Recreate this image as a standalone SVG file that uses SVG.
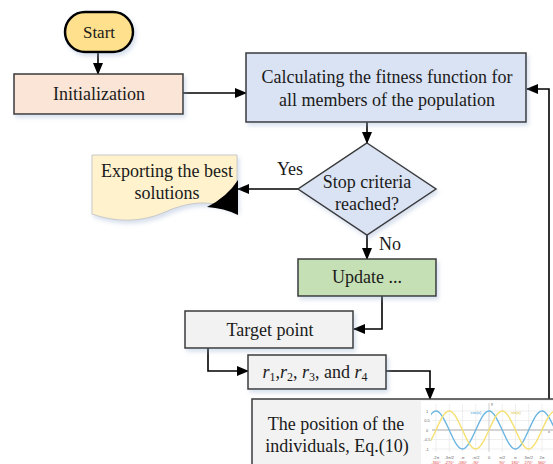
<svg xmlns="http://www.w3.org/2000/svg" width="553" height="464" viewBox="0 0 553 464">
<style>
.t{font-family:"Liberation Serif","Times New Roman",serif;font-size:18px;fill:#1a1a1a;text-anchor:middle}
.box{stroke:#3a3a3a;stroke-width:1.5}
.c{fill:none;stroke:#000;stroke-width:1.6}
.s{font-family:"Liberation Sans",Arial,sans-serif;font-size:4px;fill:#666;text-anchor:middle}
.r{font-family:"Liberation Sans",Arial,sans-serif;font-size:4px;fill:#e04040;text-anchor:middle}
</style>
<defs>
<marker id="ah" markerUnits="userSpaceOnUse" markerWidth="12" markerHeight="12" viewBox="0 0 12 12" refX="11" refY="6" orient="auto">
<path d="M0,1 L12,6 L0,11 Z" fill="#000"/>
</marker>
<filter id="sh" x="-10%" y="-10%" width="130%" height="140%">
<feDropShadow dx="2" dy="3" stdDeviation="2" flood-color="#8fa5cc" flood-opacity="0.35"/>
</filter>
<clipPath id="cp"><rect x="431" y="401" width="122" height="63"/></clipPath>
</defs>

<g id="connectors">
<line class="c" x1="98" y1="52" x2="98" y2="74" marker-end="url(#ah)"/>
<line class="c" x1="183" y1="93" x2="246" y2="93" marker-end="url(#ah)"/>
<line class="c" x1="367" y1="122" x2="367" y2="143" marker-end="url(#ah)"/>
<line class="c" x1="298" y1="189" x2="238" y2="189" marker-end="url(#ah)"/>
<line class="c" x1="367" y1="235" x2="367" y2="259" marker-end="url(#ah)"/>
<polyline class="c" points="382,296 382,329 354,329" marker-end="url(#ah)"/>
<polyline class="c" points="208,348 208,371 248,371" marker-end="url(#ah)"/>
<polyline class="c" points="386,371 430,371 430,399" marker-end="url(#ah)"/>
<polyline class="c" points="549,399 549,89 527,89" marker-end="url(#ah)"/>
<text class="t" x="290" y="175">Yes</text>
<text class="t" x="379" y="250" style="text-anchor:start">No</text>
</g>

<g id="start">
<rect x="65" y="12" width="68" height="40" rx="20" ry="20" fill="#FFE08C" stroke="#000" stroke-width="2.5" filter="url(#sh)"/>
<text class="t" x="99" y="38" style="font-size:17px">Start</text>
</g>

<g id="initialization">
<rect class="box" x="14" y="74" width="169" height="40" fill="#FBE5D6" filter="url(#sh)"/>
<text class="t" x="99" y="100">Initialization</text>
</g>

<g id="fitness">
<rect class="box" x="246" y="53" width="280" height="69" fill="#DAE3F3" filter="url(#sh)"/>
<text class="t" x="387" y="83">Calculating the fitness function for</text>
<text class="t" x="387" y="106">all members of the population</text>
</g>

<g id="decision">
<polygon class="box" points="367,143 436,189 367,235 298,189" fill="#DAE3F3" filter="url(#sh)"/>
<text class="t" x="367" y="188">Stop criteria</text>
<text class="t" x="367" y="210">reached?</text>
</g>

<g id="export">
<path d="M92,155 H237 V212 C215,200 192,200 165,212 C140,223 115,222 92,214 Z" fill="#FFF2CC" stroke="#c8c8c8" stroke-width="1" filter="url(#sh)"/>
<path d="M238,180 Q227,197 207,207 Q224,208 238,215 Z" fill="#000"/>
<text class="t" x="167" y="177">Exporting the best</text>
<text class="t" x="167" y="199">solutions</text>
</g>

<g id="update">
<rect class="box" x="298" y="259" width="138" height="37" fill="#C5E0B4" filter="url(#sh)"/>
<text class="t" x="367" y="283">Update ...</text>
</g>

<g id="target">
<rect class="box" x="185" y="311" width="168" height="37" fill="#F2F2F2" filter="url(#sh)"/>
<text class="t" x="270" y="336">Target point</text>
</g>

<g id="rparams">
<rect class="box" x="248" y="355" width="138" height="34" fill="#F2F2F2" filter="url(#sh)"/>
<text class="t" x="315" y="378"><tspan font-style="italic">r</tspan><tspan font-size="12" dy="3">1</tspan><tspan dy="-3">,</tspan><tspan font-style="italic">r</tspan><tspan font-size="12" dy="3">2</tspan><tspan dy="-3">, </tspan><tspan font-style="italic">r</tspan><tspan font-size="12" dy="3">3</tspan><tspan dy="-3">, and </tspan><tspan font-style="italic">r</tspan><tspan font-size="12" dy="3">4</tspan></text>
</g>

<g id="position">
<rect class="box" x="252" y="399" width="310" height="80" fill="#F2F2F2" filter="url(#sh)"/>
<text class="t" x="336" y="430">The position of the</text>
<text class="t" x="337" y="452">individuals, Eq.(10)</text>
<rect x="421" y="401" width="132" height="63" fill="#fff"/>
<g stroke="#e4e4e4" stroke-width="0.6">
<line x1="436" y1="404" x2="436" y2="452"/><line x1="449.25" y1="404" x2="449.25" y2="452"/>
<line x1="462.5" y1="404" x2="462.5" y2="452"/><line x1="475.75" y1="404" x2="475.75" y2="452"/>
<line x1="502.25" y1="404" x2="502.25" y2="452"/><line x1="515.5" y1="404" x2="515.5" y2="452"/>
<line x1="528.75" y1="404" x2="528.75" y2="452"/><line x1="542" y1="404" x2="542" y2="452"/>
<line x1="432" y1="411" x2="553" y2="411"/><line x1="432" y1="420.5" x2="553" y2="420.5"/>
<line x1="432" y1="439.5" x2="553" y2="439.5"/><line x1="432" y1="449" x2="553" y2="449"/>
</g>
<line x1="489" y1="403" x2="489" y2="452" stroke="#bbb" stroke-width="0.7"/>
<line x1="432" y1="430" x2="553" y2="430" stroke="#aaa" stroke-width="1.2"/>
<g clip-path="url(#cp)" fill="none" stroke-width="1.4">
<path stroke="#6CB6E2" d="M422.75,430 c4.32,-9.73 8.455,-19 13.25,-19 c4.795,0 8.93,9.73 13.25,19 c4.32,9.73 8.455,19 13.25,19 c4.795,0 8.93,-9.73 13.25,-19 c4.32,-9.73 8.455,-19 13.25,-19 c4.795,0 8.93,9.73 13.25,19 c4.32,9.73 8.455,19 13.25,19 c4.795,0 8.93,-9.73 13.25,-19 c4.32,-9.73 8.455,-19 13.25,-19 c4.795,0 8.93,9.73 13.25,19"/>
<path stroke="#F5E070" d="M422.75,449 c4.795,0 8.93,-9.73 13.25,-19 c4.32,-9.73 8.455,-19 13.25,-19 c4.795,0 8.93,9.73 13.25,19 c4.32,9.73 8.455,19 13.25,19 c4.795,0 8.93,-9.73 13.25,-19 c4.32,-9.73 8.455,-19 13.25,-19 c4.795,0 8.93,9.73 13.25,19 c4.32,9.73 8.455,19 13.25,19 c4.795,0 8.93,-9.73 13.25,-19 c4.32,-9.73 8.455,-19 13.25,-19"/>
</g>
<text class="s" x="427" y="412.5">1</text>
<text class="s" x="427" y="422">0.5</text>
<text class="s" x="427" y="431.5">0</text>
<text class="s" x="427" y="441">-0.5</text>
<text class="s" x="427" y="450.5">-1</text>
<text class="s" x="492" y="405">y</text>
<text class="s" x="549" y="433">x</text>
<text class="s" x="476" y="414" style="fill:#3a9ad9">cos(x)</text>
<text class="s" x="516" y="414" style="fill:#d9c020">sin(x)</text>
<text class="s" x="436" y="458.5">-2π</text>
<text class="s" x="449.25" y="458.5">-3π/2</text>
<text class="s" x="462.5" y="458.5">-π</text>
<text class="s" x="475.75" y="458.5">-π/2</text>
<text class="s" x="489" y="458.5">0</text>
<text class="s" x="502.25" y="458.5">π/2</text>
<text class="s" x="515.5" y="458.5">π</text>
<text class="s" x="528.75" y="458.5">3π/2</text>
<text class="s" x="542" y="458.5">2π</text>
<text class="r" x="436" y="463.5">-360°</text>
<text class="r" x="449.25" y="463.5">-270°</text>
<text class="r" x="462.5" y="463.5">-180°</text>
<text class="r" x="475.75" y="463.5">-90°</text>
<text class="r" x="502.25" y="463.5">90°</text>
<text class="r" x="515.5" y="463.5">180°</text>
<text class="r" x="528.75" y="463.5">270°</text>
<text class="r" x="542" y="463.5">360°</text>
</g>
</svg>
